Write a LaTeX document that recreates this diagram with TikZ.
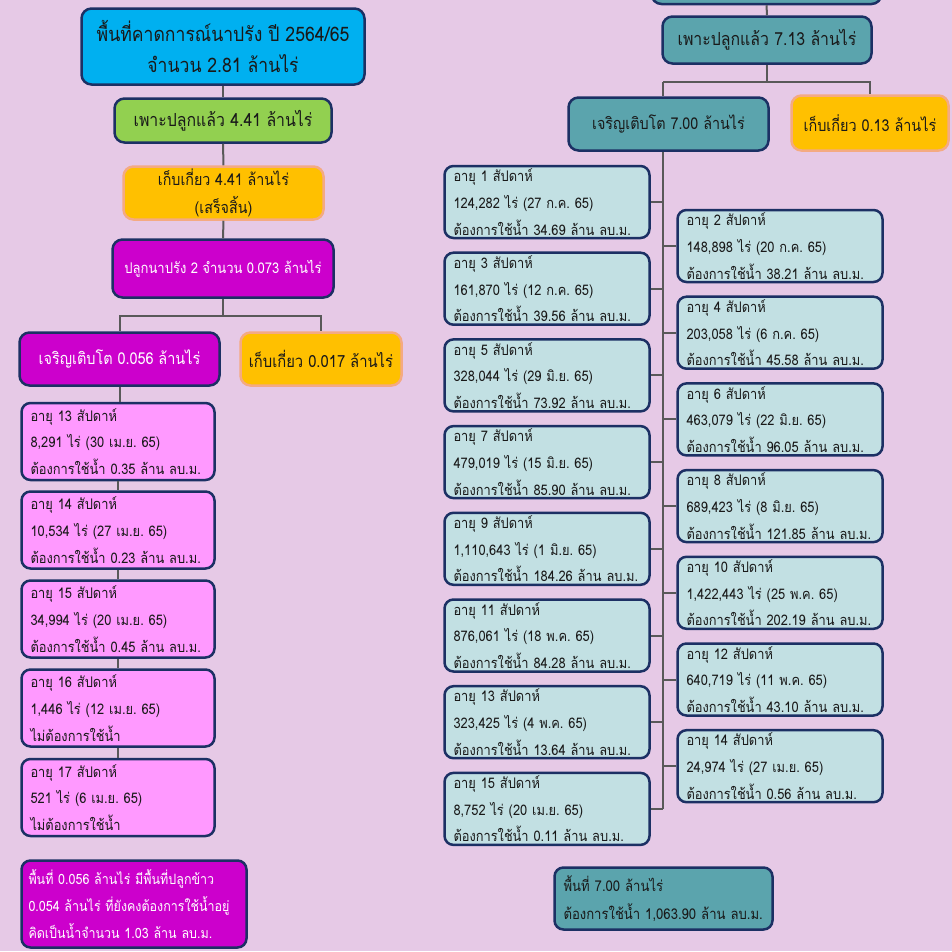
\documentclass[tikz,border=0pt]{standalone}
\usepackage{fontspec}
\setmainfont[Script=Thai, FakeStretch=0.88]{Loma}
\definecolor{bgc}{RGB}{230,201,230}
\definecolor{navy}{RGB}{28,48,100}
\definecolor{cblue}{RGB}{0,176,240}
\definecolor{cgreen}{RGB}{146,208,80}
\definecolor{corange}{RGB}{255,192,0}
\definecolor{csalmon}{RGB}{244,170,130}
\definecolor{cmag}{RGB}{204,0,204}
\definecolor{cpink}{RGB}{255,153,255}
\definecolor{cteal}{RGB}{91,164,173}
\definecolor{clteal}{RGB}{194,224,227}
\definecolor{cline}{RGB}{89,89,89}
\definecolor{ctext}{RGB}{25,25,25}
\tikzset{
  bx/.style={draw=navy, line width=2.5pt, rounded corners=10pt, text=ctext, inner sep=0pt, align=center},
  obx/.style={bx, draw=csalmon, fill=corange},
  wk/.style={bx, rounded corners=9pt, inner xsep=9pt, minimum width=205pt, minimum height=72pt, text width=187pt, align=left, font=\fontsize{14.6}{26.7}\selectfont\frenchspacing},
  wkl/.style={wk, fill=clteal},
  wkr/.style={wk, fill=clteal},
  pk/.style={wk, fill=cpink, minimum width=193pt, minimum height=77pt, text width=175pt},
  conn/.style={draw=cline, line width=2pt},
}
\begin{document}
\begin{tikzpicture}[x=1pt,y=-1pt]
\fill[bgc] (0,0) rectangle (952,951);
\useasboundingbox (0,0) rectangle (952,951);
% ---------- left tree ----------
\node[bx, fill=cblue, minimum width=283pt, minimum height=76pt, font=\fontsize{20}{31}\selectfont] (top) at (223,46.5) {พื้นที่คาดการณ์นาปรัง ปี 2564/65\\จำนวน 2.81 ล้านไร่};
\node[bx, fill=cgreen, minimum width=217pt, minimum height=44pt, font=\fontsize{18}{22}\selectfont] (plantL) at (223,120.5) {เพาะปลูกแล้ว 4.41 ล้านไร่};
\node[obx, minimum width=200pt, minimum height=53pt, font=\fontsize{16.2}{28}\selectfont] (harvA) at (223.5,193) {เก็บเกี่ยว 4.41 ล้านไร่\\(เสร็จสิ้น)};
\node[bx, fill=cmag, text=white, minimum width=221pt, minimum height=58pt, font=\fontsize{14.8}{20}\selectfont] (crop2) at (223,268.5) {ปลูกนาปรัง 2 จำนวน 0.073 ล้านไร่};
\node[bx, fill=cmag, text=white, minimum width=200pt, minimum height=53pt, font=\fontsize{16.4}{20}\selectfont] (growL) at (119.5,359) {เจริญเติบโต 0.056 ล้านไร่};
\node[obx, minimum width=161pt, minimum height=53pt, font=\fontsize{16.8}{20}\selectfont] (harvL) at (321,359) {เก็บเกี่ยว 0.017 ล้านไร่};

\node[pk] (p13) at (118,441.5) {อายุ 13 สัปดาห์\\8,291 ไร่ (30 เม.ย. 65)\\ต้องการใช้น้ำ 0.35 ล้าน ลบ.ม.};
\node[pk] (p14) at (118,530) {อายุ 14 สัปดาห์\\10,534 ไร่ (27 เม.ย. 65)\\ต้องการใช้น้ำ 0.23 ล้าน ลบ.ม.};
\node[pk] (p15) at (118,619) {อายุ 15 สัปดาห์\\34,994 ไร่ (20 เม.ย. 65)\\ต้องการใช้น้ำ 0.45 ล้าน ลบ.ม.};
\node[pk] (p16) at (118,708) {อายุ 16 สัปดาห์\\1,446 ไร่ (12 เม.ย. 65)\\ไม่ต้องการใช้น้ำ};
\node[pk] (p17) at (118,797.5) {อายุ 17 สัปดาห์\\521 ไร่ (6 เม.ย. 65)\\ไม่ต้องการใช้น้ำ};

\node[wk, fill=cmag, text=white, inner xsep=7pt, minimum width=225pt, minimum height=87pt, text width=211pt, font=\fontsize{14.2}{26.7}\selectfont\frenchspacing] (noteL) at (134,904) {พื้นที่ 0.056 ล้านไร่ มีพื้นที่ปลูกข้าว\\0.054 ล้านไร่ ที่ยังคงต้องการใช้น้ำอยู่\\คิดเป็นน้ำจำนวน 1.03 ล้าน ลบ.ม.};

\draw[conn] (top.south) -- (plantL.north);
\draw[conn] (plantL.south) -- (harvA.north);
\draw[conn] (harvA.south) -- (crop2.north);
\coordinate (barL) at (223,316);
\draw[conn] (crop2.south) -- (barL);
\draw[conn] (growL.north) |- (barL) -| (harvL.north);
\draw[conn] (growL.south) -- (growL.south |- p13.north);
\draw[conn] (p13.south) -- (p13.south |- p14.north);
\draw[conn] (p14.south) -- (p14.south |- p15.north);
\draw[conn] (p15.south) -- (p15.south |- p16.north);
\draw[conn] (p16.south) -- (p16.south |- p17.north);

% ---------- right tree ----------
\node[bx, fill=cteal, minimum width=230pt, minimum height=40pt] (rtop) at (766.5,-16) {};
\node[bx, fill=cteal, minimum width=209pt, minimum height=47pt, font=\fontsize{18}{22}\selectfont] (plantR) at (767,40) {เพาะปลูกแล้ว 7.13 ล้านไร่};
\node[bx, fill=cteal, minimum width=200pt, minimum height=53pt, font=\fontsize{16.3}{20}\selectfont] (growR) at (668.5,124) {เจริญเติบโต 7.00 ล้านไร่};
\node[obx, minimum width=157pt, minimum height=55pt, font=\fontsize{16.4}{20}\selectfont] (harvR) at (870,123) {เก็บเกี่ยว 0.13 ล้านไร่};

\node[wkl] (w1) at (547,202) {อายุ 1 สัปดาห์\\124,282 ไร่ (27 ก.ค. 65)\\ต้องการใช้น้ำ 34.69 ล้าน ลบ.ม.};
\node[wkl] (w3) at (547,288.7) {อายุ 3 สัปดาห์\\161,870 ไร่ (12 ก.ค. 65)\\ต้องการใช้น้ำ 39.56 ล้าน ลบ.ม.};
\node[wkl] (w5) at (547,375.4) {อายุ 5 สัปดาห์\\328,044 ไร่ (29 มิ.ย. 65)\\ต้องการใช้น้ำ 73.92 ล้าน ลบ.ม.};
\node[wkl] (w7) at (547,462.1) {อายุ 7 สัปดาห์\\479,019 ไร่ (15 มิ.ย. 65)\\ต้องการใช้น้ำ 85.90 ล้าน ลบ.ม.};
\node[wkl] (w9) at (547,548.8) {อายุ 9 สัปดาห์\\1,110,643 ไร่ (1 มิ.ย. 65)\\ต้องการใช้น้ำ 184.26 ล้าน ลบ.ม.};
\node[wkl] (w11) at (547,635.5) {อายุ 11 สัปดาห์\\876,061 ไร่ (18 พ.ค. 65)\\ต้องการใช้น้ำ 84.28 ล้าน ลบ.ม.};
\node[wkl] (w13) at (547,722.2) {อายุ 13 สัปดาห์\\323,425 ไร่ (4 พ.ค. 65)\\ต้องการใช้น้ำ 13.64 ล้าน ลบ.ม.};
\node[wkl] (w15) at (547,808.9) {อายุ 15 สัปดาห์\\8,752 ไร่ (20 เม.ย. 65)\\ต้องการใช้น้ำ 0.11 ล้าน ลบ.ม.};

\node[wkr] (w2) at (780,246) {อายุ 2 สัปดาห์\\148,898 ไร่ (20 ก.ค. 65)\\ต้องการใช้น้ำ 38.21 ล้าน ลบ.ม.};
\node[wkr] (w4) at (780,332.7) {อายุ 4 สัปดาห์\\203,058 ไร่ (6 ก.ค. 65)\\ต้องการใช้น้ำ 45.58 ล้าน ลบ.ม.};
\node[wkr] (w6) at (780,419.4) {อายุ 6 สัปดาห์\\463,079 ไร่ (22 มิ.ย. 65)\\ต้องการใช้น้ำ 96.05 ล้าน ลบ.ม.};
\node[wkr] (w8) at (780,506.1) {อายุ 8 สัปดาห์\\689,423 ไร่ (8 มิ.ย. 65)\\ต้องการใช้น้ำ 121.85 ล้าน ลบ.ม.};
\node[wkr] (w10) at (780,592.8) {อายุ 10 สัปดาห์\\1,422,443 ไร่ (25 พ.ค. 65)\\ต้องการใช้น้ำ 202.19 ล้าน ลบ.ม.};
\node[wkr] (w12) at (780,679.5) {อายุ 12 สัปดาห์\\640,719 ไร่ (11 พ.ค. 65)\\ต้องการใช้น้ำ 43.10 ล้าน ลบ.ม.};
\node[wkr] (w14) at (780,766.2) {อายุ 14 สัปดาห์\\24,974 ไร่ (27 เม.ย. 65)\\ต้องการใช้น้ำ 0.56 ล้าน ลบ.ม.};

\node[wk, fill=cteal, minimum width=218pt, minimum height=62pt, text width=200pt, font=\fontsize{14.9}{28}\selectfont\frenchspacing] (sumR) at (663.5,898.5) {พื้นที่ 7.00 ล้านไร่\\ต้องการใช้น้ำ 1,063.90 ล้าน ลบ.ม.};

\draw[conn] (rtop.south) -- (plantR.north);
\coordinate (barR) at (767,82);
\coordinate (tr) at (663,82);
\draw[conn] (plantR.south) -- (barR);
\draw[conn] (tr) -- (tr |- growR.north);
\draw[conn] (tr) -| (harvR.north);
\draw[conn] (tr |- growR.south) -- (tr |- w15.east);
\foreach \n in {w1,w3,w5,w7,w9,w11,w13,w15}{\draw[conn] (\n.east) -- (\n.east -| tr);}
\foreach \n in {w2,w4,w6,w8,w10,w12,w14}{\draw[conn] (\n.west) -- (\n.west -| tr);}
\end{tikzpicture}
\end{document}
